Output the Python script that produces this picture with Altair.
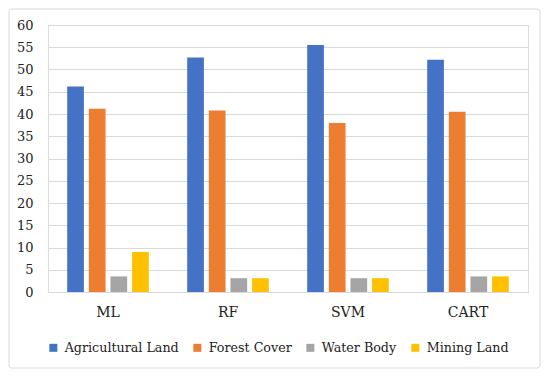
import altair as alt
import pandas as pd

methods = ["ML", "RF", "SVM", "CART"]
classes = ["Agricultural Land", "Forest Cover", "Water Body", "Mining Land"]
agricultural = [46.2, 52.7, 55.5, 52.2]
forest = [41.2, 40.8, 38.0, 40.5]
water = [3.5, 3.1, 3.1, 3.5]
mining = [9.0, 3.1, 3.1, 3.5]
colors = ["#4472C4", "#ED7D31", "#A5A5A5", "#FFC000"]
y_ticks = list(range(0, 61, 5))

series = [agricultural, forest, water, mining]
rows = []
for cls, vals in zip(classes, series):
    for m, v in zip(methods, vals):
        rows.append({"Method": m, "Class": cls, "Value": v})
df = pd.DataFrame(rows)

FONT = "DejaVu Serif"

bars = alt.Chart(df).mark_bar().encode(
    x=alt.X("Method:N", sort=methods, title=None,
            scale=alt.Scale(paddingInner=0.32, paddingOuter=0.16),
            axis=alt.Axis(labelAngle=0, ticks=False, domainColor="#d9d9d9",
                          labelPadding=13, labelFontSize=14, labelFont=FONT,
                          labelColor="#222222")),
    xOffset=alt.XOffset("Class:N", sort=classes,
                        scale=alt.Scale(paddingInner=0.228, paddingOuter=0)),
    y=alt.Y("Value:Q", title=None,
            scale=alt.Scale(domain=[0, 60], nice=False),
            axis=alt.Axis(values=y_ticks, domain=False, ticks=False,
                          gridColor="#d9d9d9", labelPadding=15,
                          labelFontSize=13, labelFont=FONT,
                          labelColor="#222222")),
    color=alt.Color("Class:N", sort=classes,
                    scale=alt.Scale(domain=classes, range=colors),
                    legend=alt.Legend(title=None, orient="none",
                                      direction="horizontal",
                                      legendX=-1, legendY=316,
                                      symbolType="square", symbolSize=64,
                                      symbolStrokeWidth=0,
                                      labelFontSize=12.7, labelFont=FONT,
                                      labelColor="#222222",
                                      labelOffset=5, columnPadding=12)),
)

border = alt.Chart(alt.Data(values=[{"a": 1}])).mark_rect(
    filled=False, stroke="#d9d9d9", strokeWidth=1, cornerRadius=3
).encode(
    x=alt.value(-39), x2=alt.value(492),
    y=alt.value(-16), y2=alt.value(343),
)

chart = alt.layer(bars, border).properties(
    width=480, height=267, padding=0
).configure_view(stroke=None).configure(background="white", font=FONT)

chart.save("out.html", embed_options={"renderer": "svg", "actions": False})
